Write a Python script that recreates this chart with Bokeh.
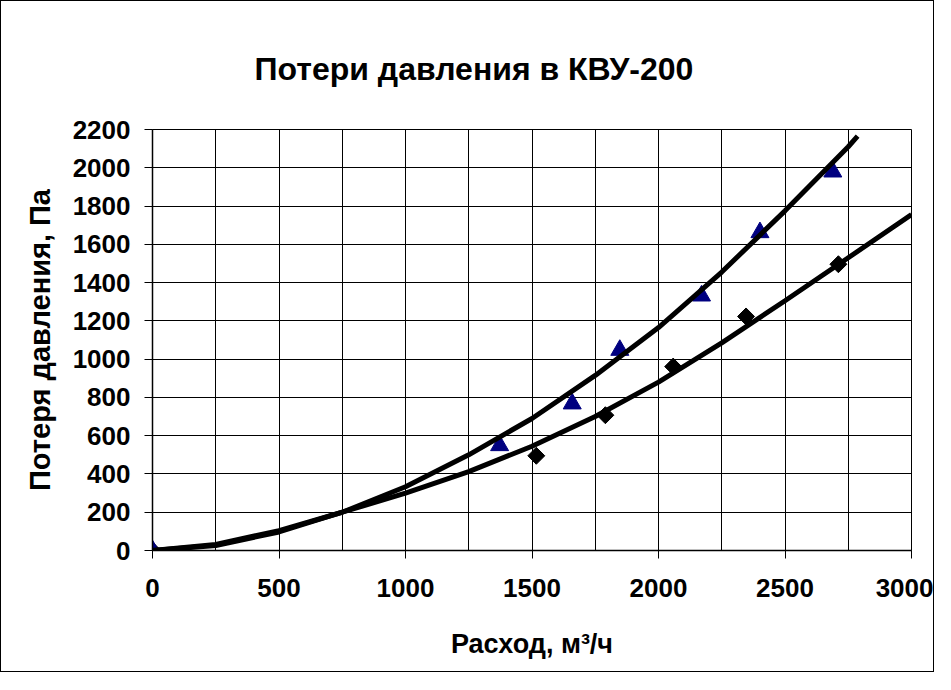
from bokeh.plotting import figure
from bokeh.models import Range1d, FixedTicker
from bokeh.embed import file_html
from bokeh.resources import INLINE
import math

# Measured points (flow m3/h, pressure loss Pa)
x_tri = [0, 1372, 1659, 1847, 2170, 2401, 2689]
y_tri = [0, 549, 767, 1047, 1331, 1662, 1979]
x_dia = [0, 1517, 1790, 2058, 2346, 2711]
y_dia = [0, 495, 707, 961, 1223, 1496]

# Trend lines
trend_tri_x = [0, 250, 500, 750, 1000, 1250, 1500, 1750, 2000, 2250, 2500, 2750, 2787]
trend_tri_y = [0, 26, 97, 200, 333, 500, 690, 915, 1165, 1455, 1775, 2110, 2165]
trend_dia_x = [0, 250, 500, 750, 1000, 1250, 1500, 1750, 2000, 2250, 2500, 2750, 3000]
trend_dia_y = [0, 32, 104, 200, 300, 412, 545, 700, 880, 1085, 1305, 1530, 1755]

x_major = [0, 500, 1000, 1500, 2000, 2500, 3000]
x_minor = [250, 750, 1250, 1750, 2250, 2750]
y_major = [0, 200, 400, 600, 800, 1000, 1200, 1400, 1600, 1800, 2000, 2200]

title_text = "Потери давления в КВУ-200"
x_label = "Расход, м³/ч"
y_label = "Потеря давления, Па"

FONT = "Liberation Sans"

p = figure(width=934, height=672,
           x_range=Range1d(0, 3000), y_range=Range1d(0, 2200),
           output_backend="svg", toolbar_location=None,
           min_border_left=151, min_border_right=24,
           min_border_top=128, min_border_bottom=123,
           title=title_text,
           styles={"border": "1px solid black"})

p.title.text_font = FONT
p.title.text_font_size = "32px"
p.title.text_font_style = "bold"
p.title.text_color = "black"
p.title.align = "left"
p.title.offset = 102
p.title.standoff = 86

p.outline_line_color = "black"
p.outline_line_width = 1
p.background_fill_color = "white"
p.border_fill_color = "white"

p.xaxis.ticker = FixedTicker(ticks=x_major, minor_ticks=x_minor)
p.yaxis.ticker = FixedTicker(ticks=y_major)

for ax in (p.xaxis[0], p.yaxis[0]):
    ax.major_label_text_font = FONT
    ax.major_label_text_font_size = "26px"
    ax.major_label_text_font_style = "bold"
    ax.major_label_text_color = "black"
    ax.axis_line_color = "black"
    ax.axis_line_width = 1.5
    ax.major_tick_line_color = "black"
    ax.major_tick_out = 8
    ax.major_tick_in = 0
    ax.minor_tick_out = 0
    ax.minor_tick_in = 0
    ax.axis_label_text_font = FONT
    ax.axis_label_text_font_style = "bold"
    ax.axis_label_text_color = "black"

p.xaxis.axis_label = x_label
p.yaxis.axis_label = y_label
p.xaxis.axis_label_text_font_size = "27px"
p.yaxis.axis_label_text_font_size = "29px"
p.xaxis.major_label_standoff = 20
p.yaxis.major_label_standoff = 14
p.xaxis.axis_label_standoff = 29
p.yaxis.axis_label_standoff = 14

p.xgrid.grid_line_color = "black"
p.xgrid.minor_grid_line_color = "black"
p.ygrid.grid_line_color = "black"
for g in (p.xgrid[0], p.ygrid[0]):
    g.grid_line_width = 1
    g.grid_line_alpha = 1

p.scatter(x_dia, y_dia, marker="square", size=12, angle=math.pi / 4,
          fill_color="black", line_color="black")
p.scatter(x_tri, y_tri, marker="triangle", size=18,
          fill_color="#000080", line_color="#000080")

p.line(trend_dia_x, trend_dia_y, line_color="black", line_width=5)
p.line(trend_tri_x, trend_tri_y, line_color="black", line_width=5)

open("out.html", "w").write(file_html(p, INLINE))
